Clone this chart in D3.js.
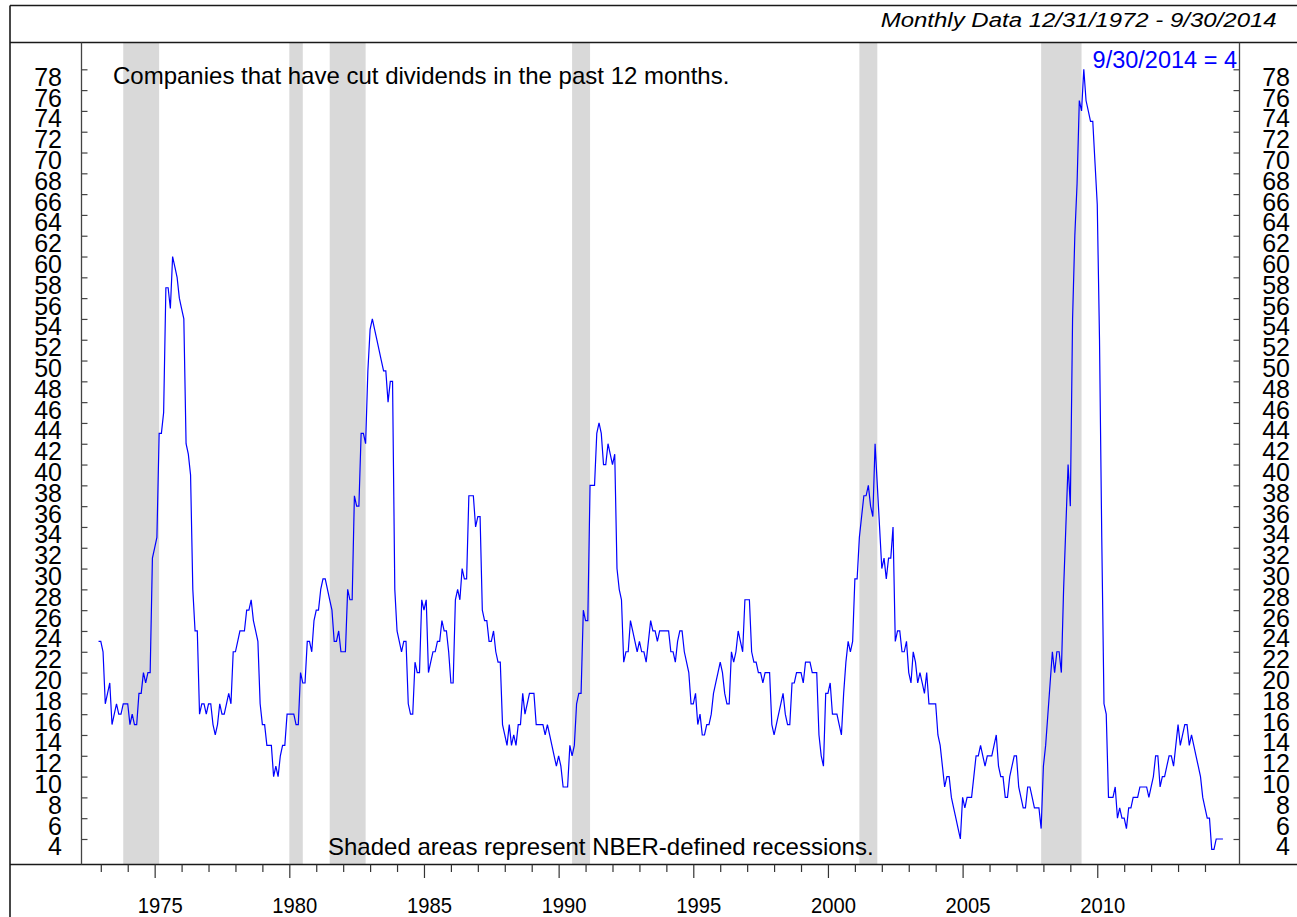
<!DOCTYPE html>
<html>
<head>
<meta charset="utf-8">
<script src="https://cdn.jsdelivr.net/npm/d3@7"></script>
<style>
html,body{margin:0;padding:0;background:#fff;}
svg{display:block;}
text{font-family:"Liberation Sans",Arial,Helvetica,sans-serif;}
</style>
</head>
<body>
<svg id="chart" width="1297" height="917"></svg>
<script>
// ---------------- DATA ----------------
const seriesStart = 1972 + 11 / 12; // first month: December 1972
// Companies that have cut dividends in the past 12 months (monthly, 12/1972 - 9/2014)
const dividendCuts = [
  23,23,22,17,18,19,15,16,17,16,16,17, 17,17,15,16,15,15,18,18,20,19,20,20,
  31,32,33,43,43,45,57,57,55,60,59,58, 56,55,54,42,41,39,28,24,24,16,17,17,
  16,17,17,15,14,15,17,16,16,17,18,17, 22,22,23,24,24,24,26,26,27,25,24,23,
  17,15,15,13,13,13,10,11,10,12,13,13, 16,16,16,16,15,15,20,19,19,23,23,22,
  25,26,26,28,29,29,28,27,26,23,23,24, 22,22,22,28,27,27,37,36,36,43,43,42,
  49,53,54,53,52,51,50,49,49,46,48,48, 28,24,23,22,23,23,17,16,16,21,20,20,
  27,26,27,20,21,22,22,23,23,25,24,24, 22,19,19,27,28,27,30,29,29,37,37,37,
  34,35,35,26,25,25,23,23,24,22,21,21, 15,14,13,15,13,14,13,15,15,18,16,17,
  18,18,18,15,15,15,15,14,15,14,13,12, 11,12,11,9,9,9,13,12,13,17,18,18,
  26,25,25,38,38,38,43,44,43,40,40,42, 41,40,41,30,28,27,21,22,22,25,24,23,
  22,23,22,22,21,23,25,24,24,23,24,24, 24,24,24,22,22,21,23,24,24,22,21,20,
  17,17,18,15,16,14,14,15,15,16,18,19, 20,21,20,18,17,17,22,21,22,24,23,22,
  27,27,27,22,21,21,20,20,19,20,20,20, 15,14,15,16,17,18,16,15,15,19,19,20,
  20,20,19,21,21,21,20,20,20,14,12,11, 18,18,19,16,16,16,15,14,18,21,23,22,
  23,29,29,33,35,37,37,38,36,35,42,38, 34,30,31,29,31,31,34,23,24,24,22,22,
  23,20,19,22,21,19,20,19,18,20,17,17, 17,17,14,13,11,9,10,10,8,7,6,5,
  4,8,7,8,8,8,10,12,12,13,12,11, 12,12,12,13,14,11,10,10,8,8,10,11,
  12,12,9,8,7,7,9,9,8,7,7,7, 5,11,13,16,19,22,20,22,22,20,28,34,
  40,36,54,62,67,75,74,78,75,74,73,73, 69,65,52,33,17,16,8,8,8,9,6,7,
  6,6,5,7,7,8,8,8,9,9,9,9, 8,9,10,12,12,9,10,10,11,12,12,11,
  13,15,13,14,15,15,13,14,13,12,11,10, 8,7,6,6,3,3,4,4,4,4
];
// NBER recessions (decimal years)
const recessionStarts = [1973 + 10/12, 1980.0, 1981.5, 1990.5, 2001 + 2/12, 2007 + 11/12];
const recessionEnds   = [1975 + 2/12, 1980.5, 1982 + 10/12, 1991 + 2/12, 2001 + 10/12, 2009 + 5/12];
const yTickValues = d3.range(4, 79, 2);
const xMajorYears = [1975, 1980, 1985, 1990, 1995, 2000, 2005, 2010];
const xMinorYears = d3.range(1973, 2015).filter(v => v % 5 !== 0);
const headerText = "Monthly Data 12/31/1972 - 9/30/2014";
const titleText = "Companies that have cut dividends in the past 12 months.";
const footText = "Shaded areas represent NBER-defined recessions.";
const lastLabel = "9/30/2014 = 4";

// ---------------- LAYOUT ----------------
const W = 1297, H = 917;
const plotL = 81.5, plotR = 1239.5, plotT = 42.5, plotB = 864.5;

const x = d3.scaleLinear().domain([1972.265, 2015.30]).range([81, 1240]);
const y = d3.scaleLinear().domain([1.567, 80.577]).range([864.3, 42.5]);

const svg = d3.select("#chart");

// recession shading
svg.append("g").selectAll("rect")
  .data(recessionStarts.map((s, i) => [s, recessionEnds[i]]))
  .join("rect")
  .attr("x", d => x(d[0]))
  .attr("width", d => x(d[1]) - x(d[0]))
  .attr("y", plotT)
  .attr("height", plotB - plotT)
  .attr("fill", "#d9d9d9");

// frame lines
const frame = svg.append("g").attr("stroke", "#1a1a1a").attr("stroke-width", 1.6).attr("fill", "none");
frame.append("line").attr("x1", 10).attr("x2", W).attr("y1", 5.5).attr("y2", 5.5);
frame.append("line").attr("x1", 10).attr("x2", W).attr("y1", plotT).attr("y2", plotT);
frame.append("line").attr("x1", 10).attr("x2", W).attr("y1", plotB).attr("y2", plotB);
frame.append("line").attr("x1", 10).attr("x2", 10).attr("y1", 5.5).attr("y2", H);

// axis lines
const ax = svg.append("g").attr("stroke", "#444").attr("stroke-width", 1.3);
ax.append("line").attr("x1", plotL).attr("x2", plotL).attr("y1", plotT).attr("y2", plotB);
ax.append("line").attr("x1", plotR).attr("x2", plotR).attr("y1", plotT).attr("y2", plotB);

// y ticks
const yAxisL = d3.axisRight(y).tickValues(yTickValues).tickSize(6).tickFormat("");
const gyl = svg.append("g").attr("transform", `translate(${plotL},0)`).call(yAxisL);
gyl.select(".domain").remove();
gyl.selectAll(".tick line").attr("stroke", "#444").attr("stroke-width", 1.2);
const yAxisR = d3.axisLeft(y).tickValues(yTickValues).tickSize(6).tickFormat("");
const gyr = svg.append("g").attr("transform", `translate(${plotR},0)`).call(yAxisR);
gyr.select(".domain").remove();
gyr.selectAll(".tick line").attr("stroke", "#444").attr("stroke-width", 1.2);

// y labels (both sides)
[62, 1290].forEach(xe => {
  svg.append("g").selectAll("text")
    .data(yTickValues)
    .join("text")
    .attr("x", xe)
    .attr("y", d => y(d) + 16.4)
    .attr("text-anchor", "end")
    .attr("font-size", 25)
    .attr("fill", "#000")
    .text(d => d);
});

// x ticks
const xMinor = d3.axisBottom(x).tickValues(xMinorYears).tickSize(7.5).tickFormat("");
const gxm = svg.append("g").attr("transform", `translate(0,${plotB})`).call(xMinor);
gxm.select(".domain").remove();
gxm.selectAll(".tick line").attr("stroke", "#333").attr("stroke-width", 1.2);
const xMajor = d3.axisBottom(x).tickValues(xMajorYears).tickSize(13.5).tickFormat("");
const gxM = svg.append("g").attr("transform", `translate(0,${plotB})`).call(xMajor);
gxM.select(".domain").remove();
gxM.selectAll(".tick line").attr("stroke", "#333").attr("stroke-width", 1.2);

svg.append("g").selectAll("text")
  .data(xMajorYears)
  .join("text")
  .attr("x", d => x(d) + 5.5)
  .attr("y", 912.7)
  .attr("text-anchor", "middle")
  .attr("font-size", 22)
  .attr("textLength", 45)
  .attr("lengthAdjust", "spacingAndGlyphs")
  .text(d => d);

// data line
const line = d3.line()
  .x((d, i) => x(seriesStart + i / 12))
  .y(d => y(d));
svg.append("path")
  .datum(dividendCuts)
  .attr("d", line)
  .attr("fill", "none")
  .attr("stroke", "#0000ff")
  .attr("stroke-width", 1.2)
  .attr("stroke-linejoin", "miter");

// texts
svg.append("text")
  .attr("x", 880.7).attr("y", 26.7)
  .attr("font-size", 19.5)
  .attr("font-style", "italic")
  .attr("textLength", 396)
  .attr("lengthAdjust", "spacingAndGlyphs")
  .text(headerText);

svg.append("text")
  .attr("x", 113).attr("y", 84)
  .attr("font-size", 24)
  .text(titleText);

svg.append("text")
  .attr("x", 328).attr("y", 855)
  .attr("font-size", 24)
  .text(footText);

svg.append("text")
  .attr("x", 1237).attr("y", 68.3)
  .attr("text-anchor", "end")
  .attr("font-size", 23.5)
  .attr("fill", "#0000ff")
  .text(lastLabel);
</script>
</body>
</html>
